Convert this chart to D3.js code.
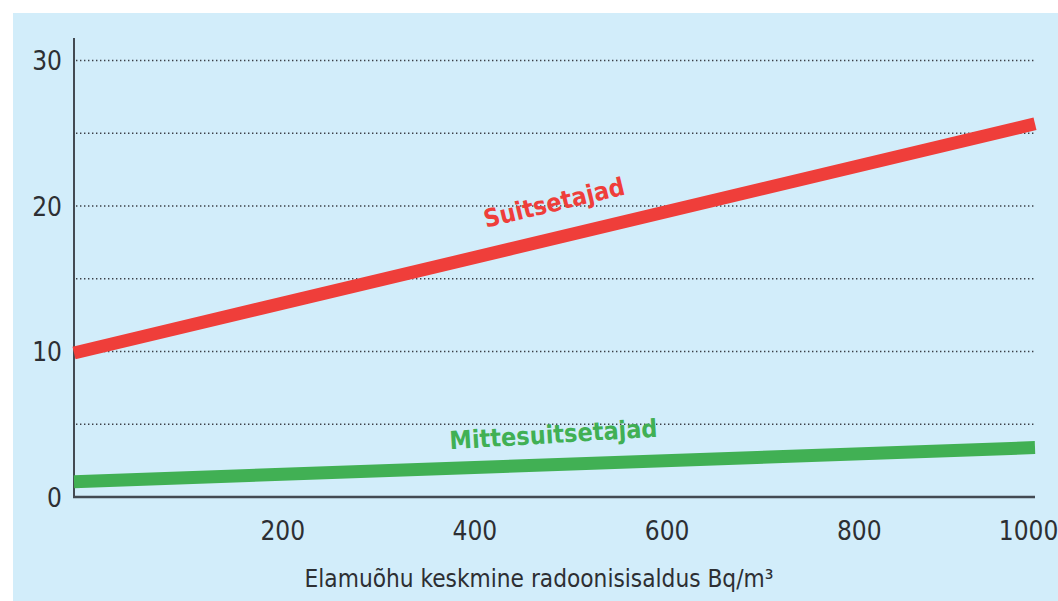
<!DOCTYPE html>
<html>
<head>
<meta charset="utf-8">
<script src="https://cdn.jsdelivr.net/npm/d3@7"></script>
<style>
  body { margin: 0; background: #fff; }
  svg text { font-family: "Liberation Sans Narrow", "DejaVu Sans Condensed", sans-serif; fill: #2d2f33; }
</style>
</head>
<body>
<main></main>
<script>
const w = 1058;
const h = 601;

// data
const radon = [0, 1000];
const smokers = [9.9, 25.65];
const nonSmokers = [1.05, 3.4];
const xTicks = [200, 400, 600, 800, 1000];
const yTicks = [0, 10, 20, 30];
const gridValues = [5, 10, 15, 20, 25, 30];
const seriesNames = ["Suitsetajad", "Mittesuitsetajad"];
const xTitle = "Elamuõhu keskmine radoonisisaldus Bq/m³";

const svg = d3.select("main")
  .append("svg")
  .attr("width", w)
  .attr("height", h);

// light blue panel
svg.append("rect")
  .attr("x", 13).attr("y", 13)
  .attr("width", w - 13).attr("height", h - 13)
  .attr("fill", "#d2edfa");

const xScale = d3.scaleLinear().domain([0, 1000]).range([74, 1035]);
const yScale = d3.scaleLinear().domain([0, 30]).range([497, 60.5]);

// dotted gridlines
svg.append("g")
  .selectAll("line")
  .data(gridValues)
  .enter()
  .append("line")
  .attr("x1", xScale(0) + 2)
  .attr("x2", xScale(1000) + 1)
  .attr("y1", d => yScale(d))
  .attr("y2", d => yScale(d))
  .attr("stroke", "#3a3f46")
  .attr("stroke-width", 1.4)
  .attr("stroke-dasharray", "1.4,2.6");

// y axis
const yAxis = d3.axisLeft(yScale).tickValues(yTicks).tickSize(0).tickPadding(12);
const gy = svg.append("g")
  .attr("transform", `translate(${xScale(0)},0)`)
  .call(yAxis);
gy.select(".domain").remove();
gy.selectAll("text").style("font-size", "26px").attr("dy", "0.35em");
svg.append("line")
  .attr("x1", xScale(0)).attr("x2", xScale(0))
  .attr("y1", 38).attr("y2", yScale(0))
  .attr("stroke", "#434a52").attr("stroke-width", 2);

// x axis
const xAxis = d3.axisBottom(xScale).tickValues(xTicks).tickSize(0).tickPadding(25)
  .tickFormat(d3.format("d"));
const gx = svg.append("g")
  .attr("transform", `translate(0,${yScale(0)})`)
  .call(xAxis);
gx.select(".domain").remove();
gx.selectAll("text")
  .style("font-size", "26px")
  .attr("dx", d => d === 1000 ? -7 : 16);
svg.append("line")
  .attr("x1", xScale(0) - 1).attr("x2", xScale(1000))
  .attr("y1", yScale(0)).attr("y2", yScale(0))
  .attr("stroke", "#434a52").attr("stroke-width", 2.5);

svg.append("text")
  .attr("x", 539)
  .attr("y", 587)
  .attr("text-anchor", "middle")
  .style("font-size", "24.2px")
  .text(xTitle);

// the two lines
const line = d3.line()
  .x((d, i) => xScale(radon[i]))
  .y(d => yScale(d));

svg.append("path")
  .datum(nonSmokers)
  .attr("d", line)
  .attr("fill", "none")
  .attr("stroke", "#41b054")
  .attr("stroke-width", 13);

svg.append("path")
  .datum(smokers)
  .attr("d", line)
  .attr("fill", "none")
  .attr("stroke", "#ef3e3a")
  .attr("stroke-width", 13);

// series labels
svg.append("text")
  .attr("transform", "translate(556,211) rotate(-13.5)")
  .attr("text-anchor", "middle")
  .style("font-size", "25px")
  .style("font-weight", "bold")
  .style("fill", "#ef3e3a")
  .text(seriesNames[0]);

svg.append("text")
  .attr("transform", "translate(554,443) rotate(-3.5)")
  .attr("text-anchor", "middle")
  .style("font-size", "25px")
  .style("font-weight", "bold")
  .style("fill", "#41b054")
  .text(seriesNames[1]);
</script>
</body>
</html>
